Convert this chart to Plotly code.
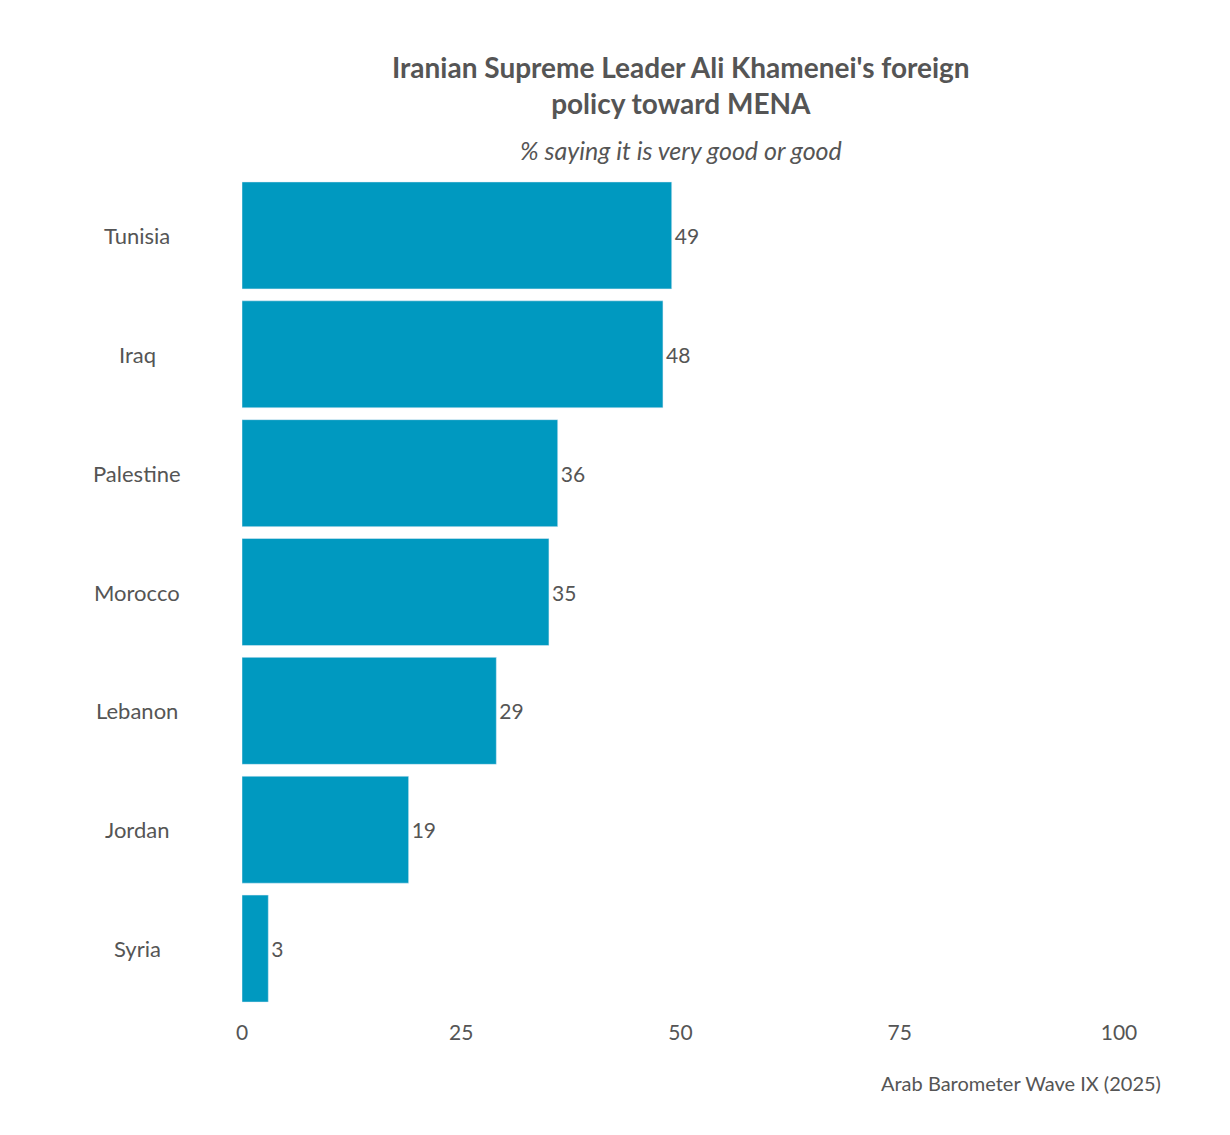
import plotly.graph_objects as go

countries = ["Tunisia", "Iraq", "Palestine", "Morocco", "Lebanon", "Jordan", "Syria"]
values = [49, 48, 36, 35, 29, 19, 3]
x_ticks = [0, 25, 50, 75, 100]

font = "Lato, Open Sans, sans-serif"
grey = "#555555"

L, R, T, B = 234, 1111, 168, 1000.5
W, H = R - L, B - T
def px(x): return (x - L) / W
def py(y): return (B - y) / H

fig = go.Figure(go.Bar(
    x=values, y=countries, orientation="h",
    marker_color="#0099c0",
    text=[str(v) for v in values], textposition="outside",
    textfont=dict(size=21, color=grey, family=font),
    cliponaxis=False,
))
anns = []
for c in countries:
    anns.append(dict(x=px(129), y=c, xref="paper", yref="y", text=c, showarrow=False,
                     xanchor="center", font=dict(size=22, color=grey, family=font)))
anns += [
    dict(text="<b>Iranian Supreme Leader Ali Khamenei's foreign<br>policy toward MENA</b>",
         x=0.5, y=py(77), xref="paper", yref="paper", yanchor="middle", showarrow=False,
         font=dict(size=28, color=grey, family=font)),
    dict(text="<i>% saying it is very good or good</i>", x=0.5, y=py(142), xref="paper",
         yref="paper", yanchor="middle", showarrow=False,
         font=dict(size=25, color=grey, family=font)),
    dict(text="Arab Barometer Wave IX (2025)", x=px(1155), y=py(1076), xref="paper",
         yref="paper", xanchor="right", yanchor="middle", showarrow=False,
         font=dict(size=20, color=grey, family=font)),
]
fig.update_layout(
    width=1230, height=1135, plot_bgcolor="white", paper_bgcolor="white",
    margin=dict(l=L, r=1230 - R, t=T, b=1135 - B, autoexpand=False),
    bargap=0.1, showlegend=False, annotations=anns,
    xaxis=dict(range=[0, 100], tickvals=x_ticks, showgrid=False, zeroline=False,
               automargin=False,
               tickfont=dict(size=21, color=grey, family=font), ticklabelstandoff=10),
    yaxis=dict(autorange="reversed", showticklabels=False, showgrid=False, automargin=False),
)
fig.write_html("out.html")
